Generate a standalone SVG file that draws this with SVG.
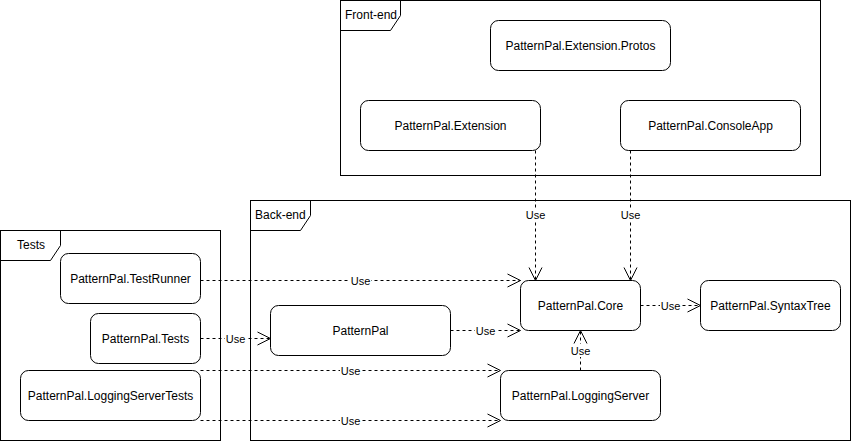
<svg xmlns="http://www.w3.org/2000/svg" width="851" height="441" viewBox="0 0 851 441">
<style>
text{font-family:"Liberation Sans",Arial,sans-serif;font-size:12px;fill:#000}
.n rect{fill:#fff;stroke:#000;stroke-width:1}
.n text{text-anchor:middle;dominant-baseline:central}
.f{fill:#fff;stroke:#000;stroke-width:1}
.ft{fill:none;stroke:#000;stroke-width:1}
.c{fill:none;stroke:#000;stroke-width:1;stroke-dasharray:3 3}
.lb{fill:#fff}
.l{font-size:11px;text-anchor:middle;dominant-baseline:central}
</style>
<defs>
<marker id="a" markerWidth="16" markerHeight="16" refX="14" refY="8" orient="auto" markerUnits="userSpaceOnUse">
<path d="M1,1.5 L14,8 L1,14.5" fill="none" stroke="#000" stroke-width="1"/>
</marker>
</defs>
<g id="frame-frontend">
<rect class="f" x="340.5" y="0.5" width="480" height="175"/>
<path class="ft" d="M340.5,30.5 L390.5,30.5 L400.5,15.5 L400.5,0.5"/>
<text x="345" y="19">Front-end</text>
</g>
<g id="frame-backend">
<rect class="f" x="250.5" y="200.5" width="600" height="240"/>
<path class="ft" d="M250.5,230.5 L300.5,230.5 L310.5,215.5 L310.5,200.5"/>
<text x="255" y="219">Back-end</text>
</g>
<g id="frame-tests">
<rect class="f" x="0.5" y="230.5" width="220" height="210"/>
<path class="ft" d="M0.5,260.5 L50.5,260.5 L60.5,245.5 L60.5,230.5"/>
<text x="17" y="249">Tests</text>
</g>
<g id="protos" class="n"><rect x="490.5" y="20.5" width="180" height="50" rx="8"/><text x="580.5" y="45.5">PatternPal.Extension.Protos</text></g>
<g id="extension" class="n"><rect x="360.5" y="100.5" width="180" height="50" rx="8"/><text x="450.5" y="125.5">PatternPal.Extension</text></g>
<g id="consoleapp" class="n"><rect x="620.5" y="100.5" width="180" height="50" rx="8"/><text x="710.5" y="125.5">PatternPal.ConsoleApp</text></g>
<g id="testrunner" class="n"><rect x="60.5" y="253.5" width="140" height="50" rx="8"/><text x="130.5" y="278.5">PatternPal.TestRunner</text></g>
<g id="tests" class="n"><rect x="90.5" y="313.5" width="110" height="50" rx="8"/><text x="145.5" y="338.5">PatternPal.Tests</text></g>
<g id="loggingservertests" class="n"><rect x="20.5" y="370.5" width="180" height="50" rx="8"/><text x="110.5" y="395.5">PatternPal.LoggingServerTests</text></g>
<g id="patternpal" class="n"><rect x="270.5" y="305.5" width="180" height="50" rx="8"/><text x="360.5" y="330.5">PatternPal</text></g>
<g id="core" class="n"><rect x="520.5" y="280.5" width="120" height="50" rx="8"/><text x="580.5" y="305.5">PatternPal.Core</text></g>
<g id="loggingserver" class="n"><rect x="500.5" y="370.5" width="160" height="50" rx="8"/><text x="580.5" y="395.5">PatternPal.LoggingServer</text></g>
<g id="syntaxtree" class="n"><rect x="700.5" y="280.5" width="140" height="50" rx="8"/><text x="770.5" y="305.5">PatternPal.SyntaxTree</text></g>
<g id="connectors">
<path class="c" d="M535.5,150.5 L535.5,280.5" marker-end="url(#a)"/>
<rect class="lb" x="525" y="208" width="21" height="13"/><text class="l" x="535.5" y="214.5">Use</text>
<path class="c" d="M630.5,150.5 L630.5,280.5" marker-end="url(#a)"/>
<rect class="lb" x="620" y="208" width="21" height="13"/><text class="l" x="630.5" y="214.5">Use</text>
<path class="c" d="M200.5,280.5 L520.5,280.5" marker-end="url(#a)"/>
<rect class="lb" x="350" y="274" width="21" height="13"/><text class="l" x="360.5" y="280.5">Use</text>
<path class="c" d="M200.5,338.5 L270.5,338.5" marker-end="url(#a)"/>
<rect class="lb" x="225" y="332" width="21" height="13"/><text class="l" x="235.5" y="338.5">Use</text>
<path class="c" d="M450.5,330.5 L520.5,330.5" marker-end="url(#a)"/>
<rect class="lb" x="475" y="324" width="21" height="13"/><text class="l" x="485.5" y="330.5">Use</text>
<path class="c" d="M200.5,370.5 L500.5,370.5" marker-end="url(#a)"/>
<rect class="lb" x="340" y="364" width="21" height="13"/><text class="l" x="350.5" y="370.5">Use</text>
<path class="c" d="M200.5,420.5 L500.5,420.5" marker-end="url(#a)"/>
<rect class="lb" x="340" y="414" width="21" height="13"/><text class="l" x="350.5" y="420.5">Use</text>
<path class="c" d="M580.5,370.5 L580.5,330.5" marker-end="url(#a)"/>
<rect class="lb" x="570" y="344" width="21" height="13"/><text class="l" x="580.5" y="350.5">Use</text>
<path class="c" d="M640.5,305.5 L700.5,305.5" marker-end="url(#a)"/>
<rect class="lb" x="660" y="299" width="21" height="13"/><text class="l" x="670.5" y="305.5">Use</text>
</g>
</svg>
